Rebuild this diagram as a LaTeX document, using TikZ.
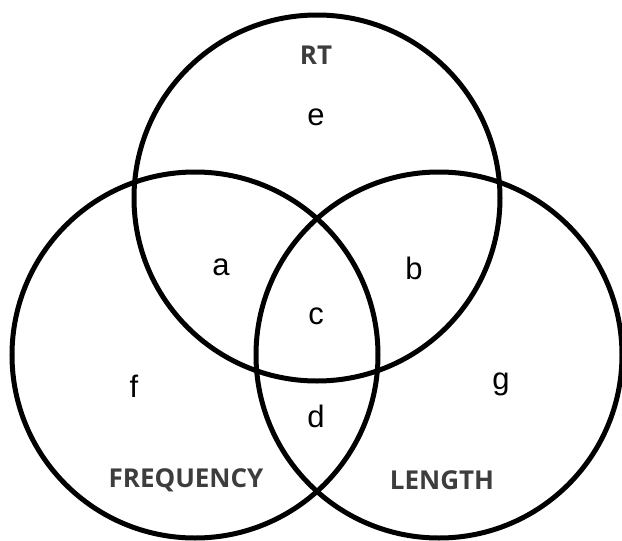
\documentclass[tikz,border=0pt]{standalone}
\usepackage{fontspec}
\setmainfont{Liberation Sans}
\newfontfamily\labfont{Open Sans}
\definecolor{labgray}{HTML}{3D3D3D}
\begin{document}
\begin{tikzpicture}[x=1pt,y=-1pt,
  ring/.style={draw=black,line width=5pt},
  region/.style={font=\fontsize{31}{32}\selectfont,text=black,inner sep=0pt},
  setname/.style={font=\labfont\bfseries\fontsize{26}{28}\selectfont,text=labgray,inner sep=0pt}]
\useasboundingbox (0,0) rectangle (622,541);
\draw[ring] (317,198) circle[radius=183];
\draw[ring] (195,355) circle[radius=183];
\draw[ring] (439,355) circle[radius=183];
\node[setname] (rt) at (316,55) {RT};
\node[setname] (freq) at (186,480) {FREQUENCY};
\node[setname] (len) at (442,480) {LENGTH};
\node[region] (e) at (316,117) {e};
\node[region] (a) at (221,267) {a};
\node[region] (b) at (414,268) {b};
\node[region] (c) at (316,316) {c};
\node[region] (d) at (316,416) {d};
\node[region] (f) at (134,386) {f};
\node[region] (g) at (501,384) {g};
\end{tikzpicture}
\end{document}
